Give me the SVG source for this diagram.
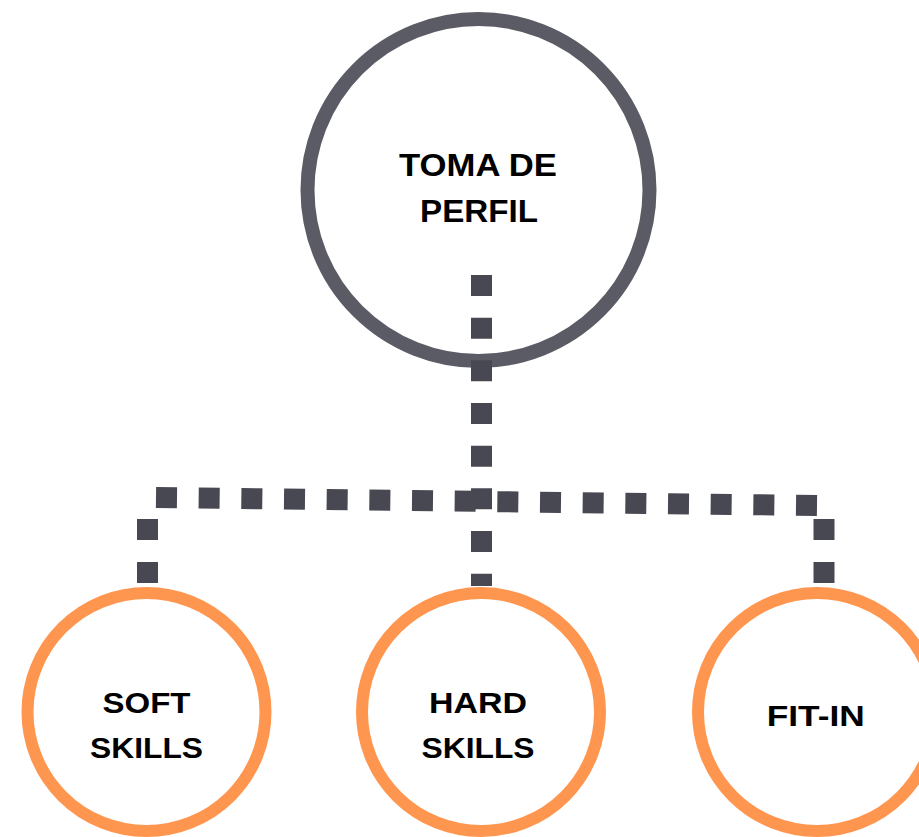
<svg xmlns="http://www.w3.org/2000/svg" width="919" height="837" viewBox="0 0 919 837">
<style>
.main{fill:#ffffff;stroke:#5B5B65;stroke-width:14}
.sub{fill:#ffffff;stroke:#FF964F;stroke-width:12}
.lbl{font-family:"Liberation Sans",Arial,sans-serif;font-weight:bold;fill:#000000;text-anchor:middle}
.big{font-size:32px}
.small{font-size:29px}
.dash{stroke:#484852;stroke-width:21;fill:none;stroke-linecap:butt}
</style>
<rect width="919" height="837" fill="#ffffff"/>
<g id="node-toma">
<circle class="main" cx="478.5" cy="190" r="171"/>
<text class="lbl big" x="478" y="176" textLength="158" lengthAdjust="spacingAndGlyphs">TOMA DE</text>
<text class="lbl big" x="479" y="222" textLength="118" lengthAdjust="spacingAndGlyphs">PERFIL</text>
</g>
<g id="node-soft">
<circle class="sub" cx="146.5" cy="712" r="119"/>
<text class="lbl small" x="146.5" y="713" textLength="88" lengthAdjust="spacingAndGlyphs">SOFT</text>
<text class="lbl small" x="146.5" y="758" textLength="113" lengthAdjust="spacingAndGlyphs">SKILLS</text>
</g>
<g id="node-hard">
<circle class="sub" cx="481" cy="712" r="119"/>
<text class="lbl small" x="478" y="713" textLength="98" lengthAdjust="spacingAndGlyphs">HARD</text>
<text class="lbl small" x="478" y="758" textLength="113" lengthAdjust="spacingAndGlyphs">SKILLS</text>
</g>
<g id="node-fitin">
<circle class="sub" cx="817" cy="712" r="119"/>
<text class="lbl small" x="815.7" y="725.7" textLength="98" lengthAdjust="spacingAndGlyphs">FIT-IN</text>
</g>
<g id="connectors">
<line class="dash" x1="481.5" y1="275" x2="481.5" y2="586" stroke-dasharray="21 21.67"/>
<line class="dash" x1="156" y1="497.5" x2="817" y2="505.5" stroke-dasharray="21 21.67"/>
<line class="dash" x1="147.5" y1="519" x2="147.5" y2="583" stroke-dasharray="21 22"/>
<line class="dash" x1="824" y1="519" x2="824" y2="583" stroke-dasharray="21 22"/>
</g>
</svg>
